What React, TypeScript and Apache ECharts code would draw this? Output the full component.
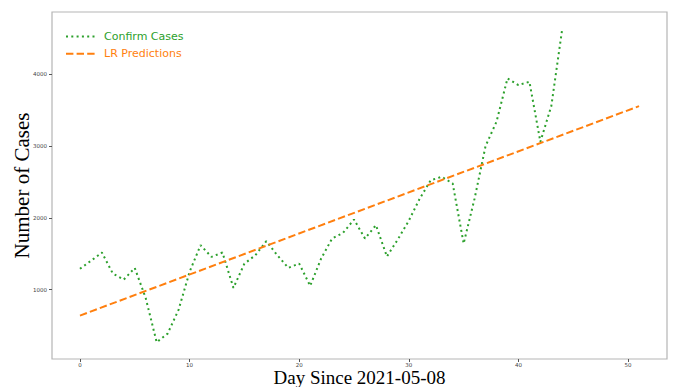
import React, { useEffect, useRef } from "react";
import * as echarts from "echarts";

const days = [
  0, 1, 2, 3, 4, 5, 6, 7, 8, 9, 10, 11, 12, 13, 14, 15, 16, 17, 18, 19, 20, 21,
  22, 23, 24, 25, 26, 27, 28, 29, 30, 31, 32, 33, 34, 35, 36, 37, 38, 39, 40,
  41, 42, 43, 44,
];
const confirmCases = [
  1290, 1400, 1516, 1223, 1139, 1301, 880, 265, 386, 720, 1246, 1618, 1455,
  1516, 1023, 1360, 1478, 1674, 1478, 1302, 1362, 1051, 1432, 1711, 1790, 1976,
  1711, 1897, 1460, 1700, 1960, 2269, 2524, 2571, 2478, 1641, 2269, 3000, 3340,
  3943, 3849, 3896, 3059, 3560, 4640,
];
const lrDays = [0, 51];
const lrValues = [637, 3556];
const xTicks = [0, 10, 20, 30, 40, 50];
const yTicks = [1000, 2000, 3000, 4000];

export default function App() {
  const ref = useRef<HTMLDivElement>(null);
  useEffect(() => {
    if (!ref.current) return;
    const chart = echarts.init(ref.current, null, { renderer: "svg" });
    chart.setOption({
      animation: false,
      backgroundColor: "#ffffff",
      grid: {
        left: 52,
        top: 12,
        right: 6,
        bottom: 28,
        outerBoundsMode: "none",
        containLabel: false,
        show: true,
        borderColor: "#b5b5b5",
        borderWidth: 1.2,
      },
      legend: {
        orient: "vertical",
        left: 65,
        top: 31,
        padding: 0,
        itemWidth: 30,
        itemHeight: 14,
        itemGap: 6,
        itemStyle: { opacity: 0 },
        textStyle: { fontFamily: "DejaVu Sans", fontSize: 11, padding: [0, 0, 0, 3] },
        data: [
          { name: "Confirm Cases", textStyle: { color: "#2ca02c" } },
          { name: "LR Predictions", textStyle: { color: "#ff7f0e" } },
        ],
      },
      xAxis: {
        type: "value",
        min: -2.55,
        max: 53.55,
        name: "Day Since 2021-05-08",
        nameLocation: "middle",
        nameGap: 10,
        nameMoveOverlap: false,
        nameTextStyle: { fontFamily: "Liberation Serif", fontSize: 19, color: "#000", lineHeight: 17 },
        splitLine: { show: false },
        axisLine: { show: false, onZero: false },
        axisTick: {
          show: true,
          length: 3,
          lineStyle: { color: "#555" },
          customValues: xTicks,
        },
        axisLabel: {
          customValues: xTicks,
          formatter: (v: number) => String(v),
          fontSize: 5.5,
          color: "#444",
          fontFamily: "DejaVu Sans",
          margin: 3,
        },
      },
      yAxis: {
        type: "value",
        min: 32,
        max: 4868,
        name: "Number of Cases",
        nameLocation: "middle",
        nameGap: 20,
        nameMoveOverlap: false,
        nameTextStyle: { fontFamily: "Liberation Serif", fontSize: 21, color: "#000" },
        splitLine: { show: false },
        axisLine: { show: false, onZero: false },
        axisTick: {
          show: true,
          length: 3,
          lineStyle: { color: "#555" },
          customValues: yTicks,
        },
        axisLabel: {
          customValues: yTicks,
          formatter: (v: number) => String(v),
          fontSize: 5.5,
          color: "#444",
          fontFamily: "DejaVu Sans",
          margin: 5,
        },
      },
      series: [
        {
          name: "Confirm Cases",
          type: "line",
          symbol: "none",
          data: days.map((d, i) => [d, confirmCases[i]]),
          lineStyle: { color: "#2ca02c", width: 2, type: [2, 3.3], cap: "butt" },
          itemStyle: { color: "#2ca02c" },
          z: 2,
        },
        {
          name: "LR Predictions",
          type: "line",
          symbol: "none",
          data: lrDays.map((d, i) => [d, lrValues[i]]),
          lineStyle: { color: "#ff7f0e", width: 2, type: [7.4, 3.2], cap: "butt" },
          itemStyle: { color: "#ff7f0e" },
          z: 3,
        },
      ],
    });
    return () => chart.dispose();
  }, []);
  return (
    <div
      ref={ref}
      style={{ position: "fixed", left: 0, top: 0, width: 673, height: 387, background: "#fff" }}
    />
  );
}
